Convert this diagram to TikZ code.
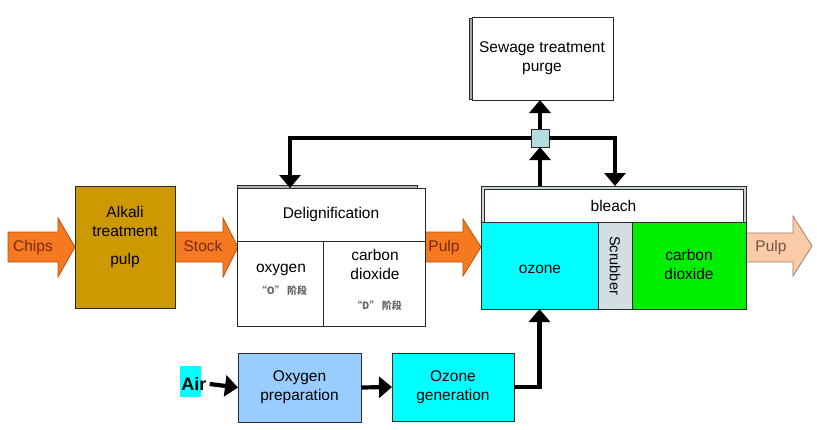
\documentclass[tikz,border=0pt]{standalone}
\usepackage{fontspec}
\setmainfont{Liberation Sans}
\newfontfamily\cjk{Noto Sans CJK SC}
\usetikzlibrary{arrows.meta,calc}
\definecolor{orangeA}{HTML}{F47920}
\definecolor{orangeD}{HTML}{B5520F}
\definecolor{chipsT}{HTML}{7A2A0C}
\definecolor{alkali}{HTML}{CC9900}
\definecolor{cyanA}{HTML}{00FFFF}
\definecolor{greenA}{HTML}{00EE00}
\definecolor{scrub}{HTML}{D3DEE0}
\definecolor{oxyP}{HTML}{99CCFF}
\definecolor{peach}{HTML}{FBCBA8}
\definecolor{peachD}{HTML}{9A7E6C}
\definecolor{peachT}{HTML}{6E5545}
\definecolor{sqC}{HTML}{B4DCE0}
\definecolor{edge}{HTML}{2A2A2A}
\definecolor{gapC}{HTML}{C9D6D6}
\tikzset{
  box/.style={draw=edge, line width=1pt, inner sep=0pt, outer sep=0pt},
  flow/.style={line width=4.2pt, -{Triangle[length=13pt,width=21pt]}},
  arr/.style={fill=orangeA, draw=orangeD, line width=0.8pt, line join=miter},
  arrtxt/.style={font=\fontsize{15.5}{18}\selectfont, text=chipsT},
  txt/.style={font=\fontsize{15.5}{19}\selectfont, align=center, inner sep=0pt},
  small/.style={font=\cjk\bfseries\fontsize{10}{11}\selectfont, text=black!60, inner sep=0pt}
}
\begin{document}
\begin{tikzpicture}[x=1pt,y=-1pt]
\useasboundingbox (0,0) rectangle (817,429);
% input arrows
\draw[arr] (8,232) -- (58,232) -- (58,218) -- (75,247) -- (58,277) -- (58,262) -- (8,262) -- cycle;
\node[arrtxt] (chipsL) at (33,247) {Chips};
\draw[arr] (175,232) -- (223,232) -- (223,218) -- (238,247) -- (223,277) -- (223,262) -- (175,262) -- cycle;
\node[arrtxt] (stockL) at (203,246) {Stock};
\draw[arr] (425,232) -- (463,232) -- (463,219) -- (481,247) -- (463,276) -- (463,262) -- (425,262) -- cycle;
\node[arrtxt] (pulpL) at (444,247) {Pulp};
\draw[fill=peach, draw=peachD, line width=0.8pt] (746,233) -- (793,233) -- (793,216) -- (812,246) -- (793,276) -- (793,262) -- (746,262) -- cycle;
\node[arrtxt, text=peachT] (pulpO) at (771,247) {Pulp};
% alkali
\node[box, fill=alkali, minimum width=100, minimum height=122] (alk) at (125,247) {};
\node[txt] (alkT) at (125,221) {Alkali\\treatment};
\node[txt] (alkP) at (125,260) {pulp};
% delignification
\draw[edge, fill=gray!60, line width=1pt] (237,185) rectangle (417,190);
\node[box, fill=white, minimum width=188, minimum height=53] (delig) at (331,214.5) {};
\node[txt] at (delig) {Delignification};
\node[box, fill=white, minimum width=86, minimum height=85] (oxc) at (280,283.5) {};
\node[box, fill=white, minimum width=102, minimum height=85] (coc) at (374,283.5) {};
\node[txt] (oxT) at (281,270) {oxygen};
\node[small] (oxS) at (282,291) {“O” 阶段};
\node[txt] (coT) at (375,264) {carbon\\dioxide};
\node[small] (coS) at (377,306) {“D” 阶段};
% bleach
\node[box, fill=gapC, minimum width=265, minimum height=123] (bl) at (613.5,247.5) {};
\node[box, fill=white, line width=0.8pt, minimum width=259, minimum height=33] (blT) at (613.5,205.5) {};
\node[txt] at (blT) {bleach};
\node[box, fill=cyanA, minimum width=117, minimum height=87] (oz) at (539.5,265.5) {};
\node[box, fill=scrub, minimum width=34, minimum height=87] (sc) at (615,265.5) {};
\node[box, fill=greenA, minimum width=114, minimum height=87] (gr) at (689,265.5) {};
\node[txt] at (540,269) {ozone};
\node[txt, rotate=-90, font=\fontsize{14.5}{16}\selectfont] at (615,265.5) {Scrubber};
\node[txt] at (689,264) {carbon\\dioxide};
% sewage
\draw[edge, fill=gray!70, line width=1pt] (469,18) rectangle (474,99);
\node[box, fill=white, minimum width=141, minimum height=83] (sew) at (542.5,58.5) {};
\node[txt] at (542,58) {Sewage treatment\\purge};
% splitter
\node[box, fill=sqC, minimum width=18, minimum height=18] (sq) at (540,138) {};
\coordinate (dl) at (290,188);
\coordinate (dr) at (615,186);
\draw[flow] (bl.north -| sq) -- (sq.south);
\draw[flow] (sq.north) -- (sew.south -| sq);
\draw[flow] (sq.west) -| (dl);
\draw[flow] (sq.east) -| (dr);
% bottom
\fill[cyanA] (180,366) rectangle (201,397);
\node[font=\bfseries\fontsize{18}{20}\selectfont, inner sep=0pt] (air) at (194,384) {Air};
\node[box, fill=oxyP, minimum width=123, minimum height=69] (oxp) at (299.5,387.5) {};
\node[txt] at (oxp) {Oxygen\\preparation};
\node[box, fill=cyanA, minimum width=122, minimum height=68] (ozg) at (453,387) {};
\node[txt] at (ozg) {Ozone\\generation};
\draw[flow] (air.east) ++(3,0) -- (oxp.west);
\draw[flow] (oxp.east) -- (ozg.west);
\draw[flow] (ozg.east) -| (oz.south);
\end{tikzpicture}
\end{document}
